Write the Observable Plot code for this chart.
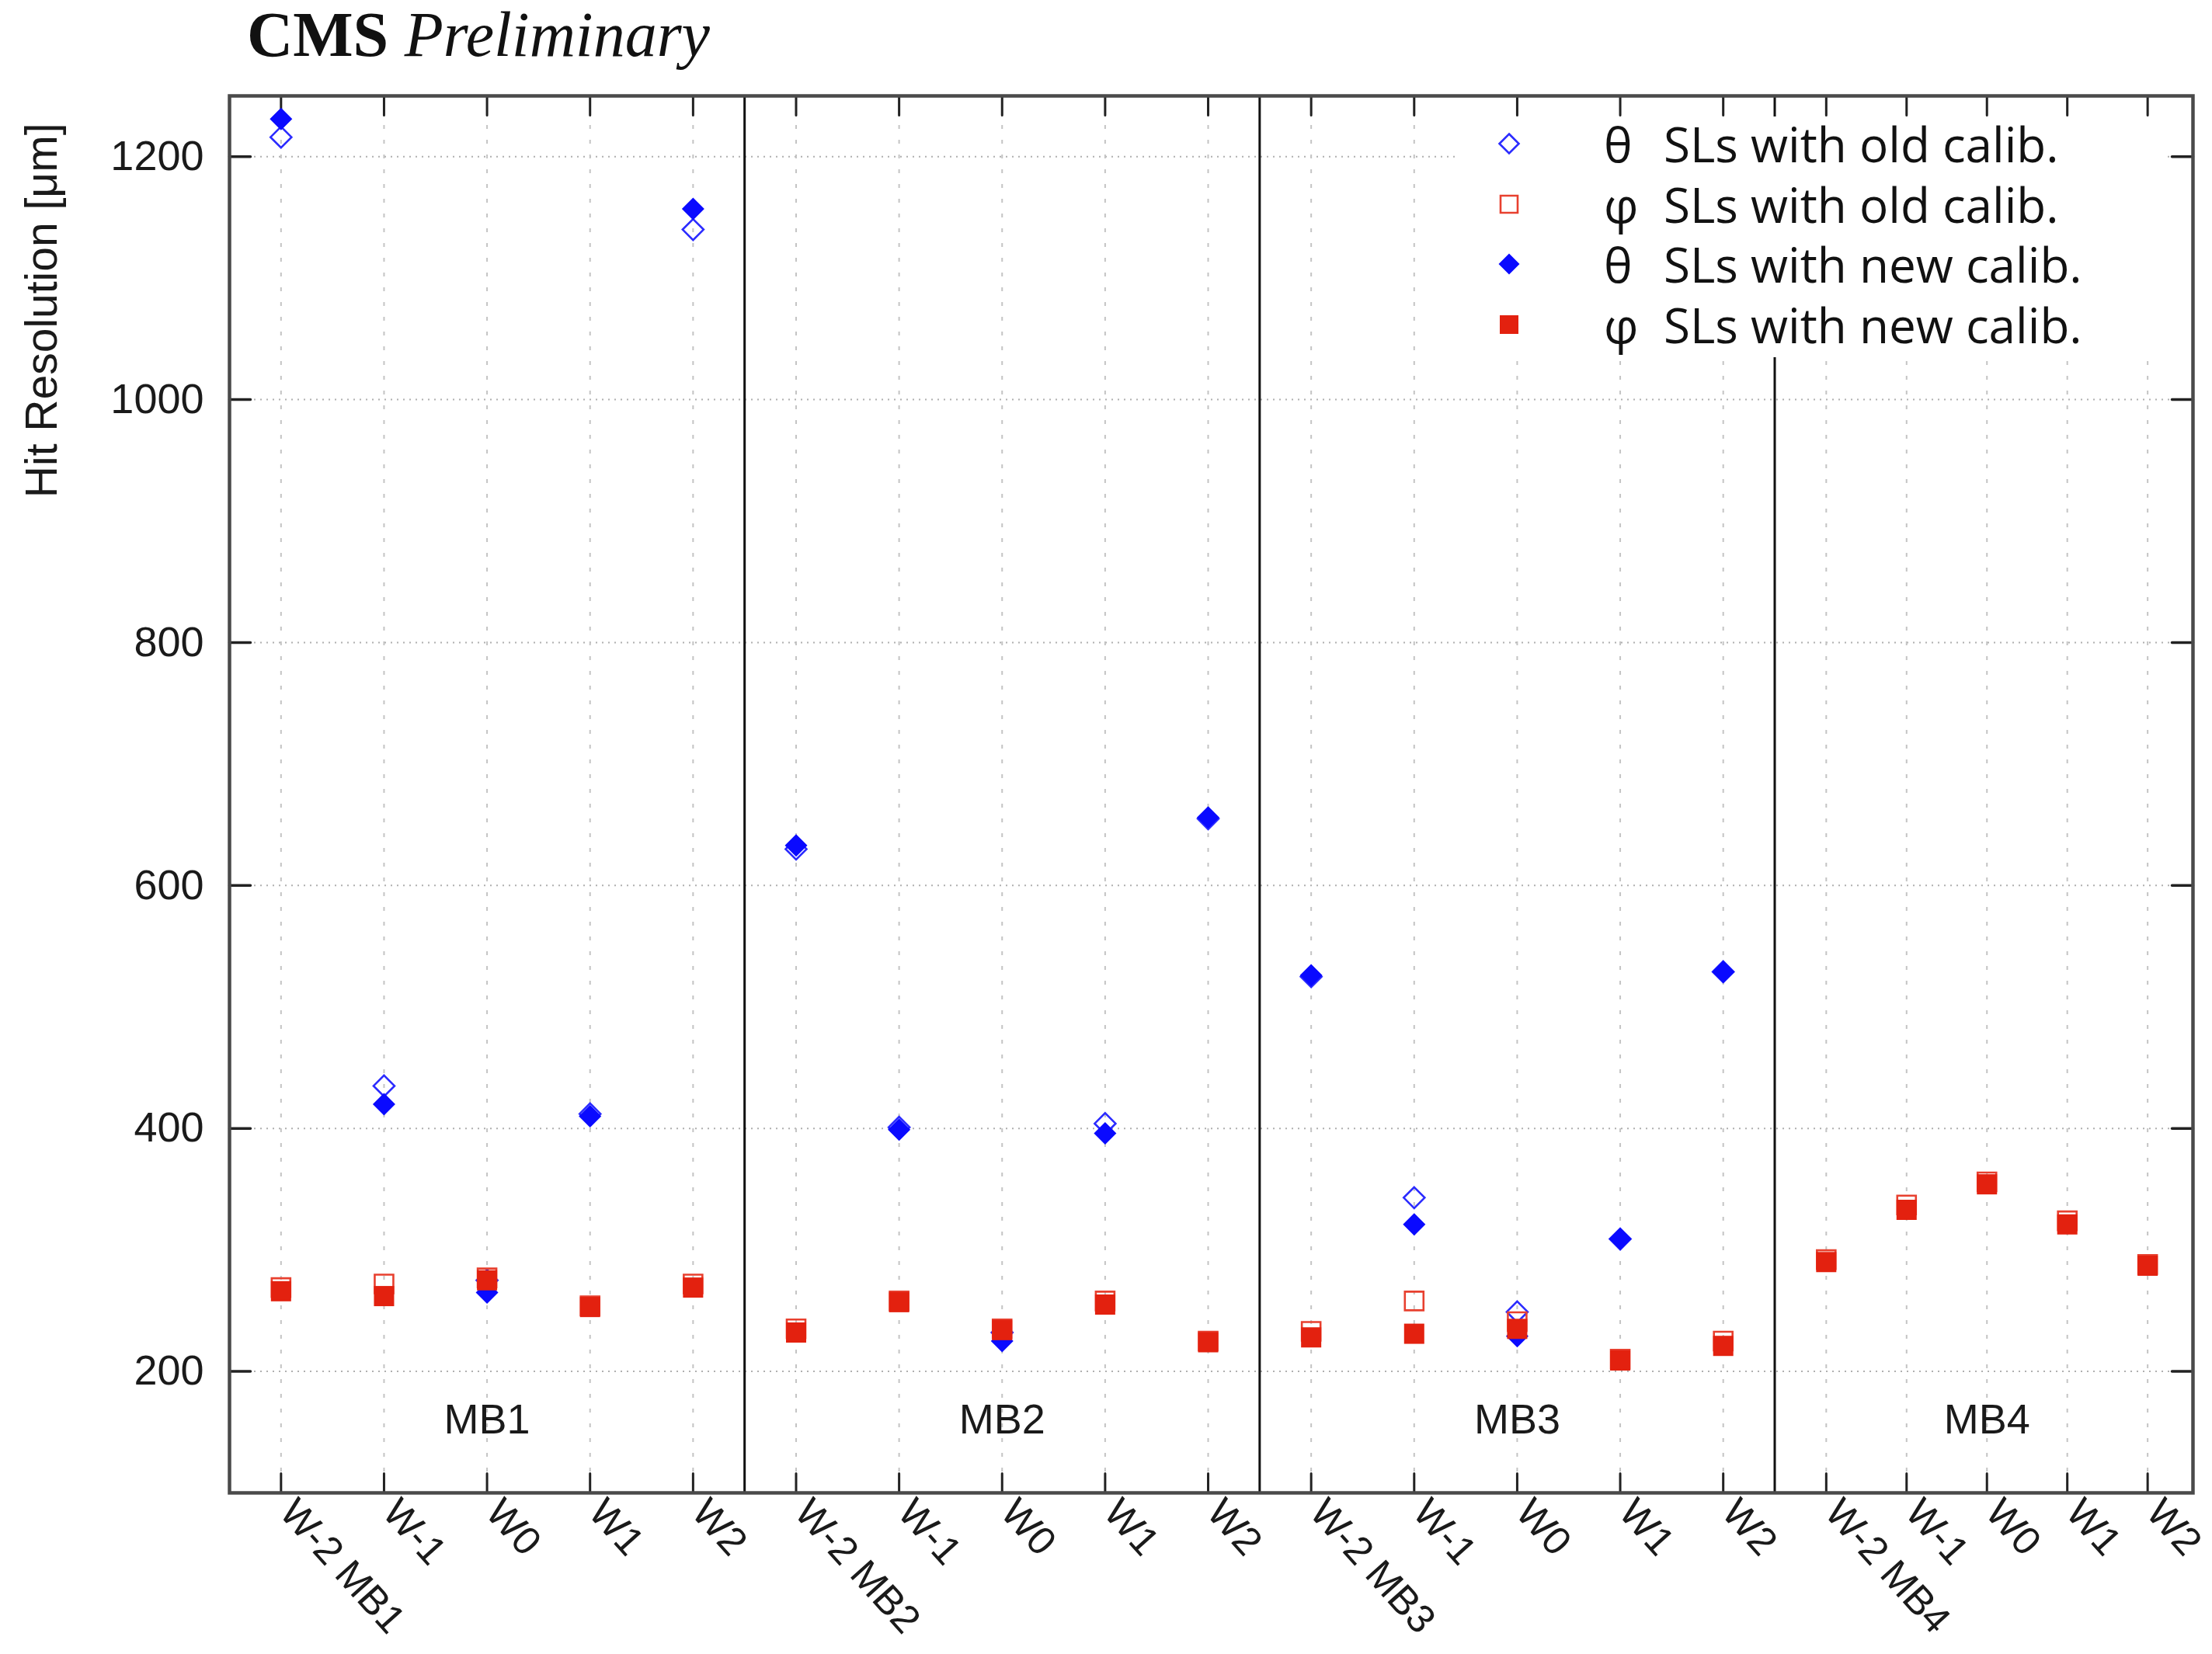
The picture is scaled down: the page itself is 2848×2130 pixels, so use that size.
<!DOCTYPE html>
<html><head><meta charset="utf-8">
<script src="https://cdn.jsdelivr.net/npm/d3@7"></script>
<script src="https://cdn.jsdelivr.net/npm/@observablehq/plot@0.6"></script>
<style>
body{margin:0;background:#fff;}
#title{position:relative;height:100px;width:2848px;}
#title span{position:absolute;left:318px;top:4px;font-family:"Liberation Serif","Times New Roman",serif;font-size:82px;line-height:82px;color:#111;white-space:nowrap;}
</style></head><body>
<div id="title"><span><b>CMS</b> <i>Preliminary</i></span></div>
<div id="chart"></div>
<script>
// ---- data ----
const stations = ["MB1", "MB2", "MB3", "MB4"];
const tickLabels = [
  "W-2 MB1", "W-1", "W0", "W1", "W2",
  "W-2 MB2", "W-1", "W0", "W1", "W2",
  "W-2 MB3", "W-1", "W0", "W1", "W2",
  "W-2 MB4", "W-1", "W0", "W1", "W2"
];
const xPositions = [1, 2, 3, 4, 5, 6, 7, 8, 9, 10, 11, 12, 13, 14, 15, 16, 16.78, 17.56, 18.34, 19.12];
const stationSeparators = [5.5, 10.5, 15.5];
const stationLabelX = [3, 8, 13, 17.56];
const yTicks = [200, 400, 600, 800, 1000, 1200];

const thetaOld = [1216, 435, 275, 412, 1140,  630, 401, 232, 404, 655,  525, 343, 249, 309, 529,  null, null, null, null, null];
const phiOld   = [269, 272, 277, 254, 272,    235, 258, 235, 258, 225,  233, 258, 241, 210, 225,  292, 337, 356, 324, 288];
const thetaNew = [1231, 420, 265, 410, 1157,  633, 399, 225, 396, 656,  526, 321, 229, 309, 529,  null, null, null, null, null];
const phiNew   = [266, 262, 275, 253, 269,    232, 257, 234, 255, 224,  228, 231, 235, 209, 221,  290, 333, 354, 321, 287];

const legendGreek = ["θ", "φ", "θ", "φ"];
const legendText = ["SLs with old calib.", "SLs with old calib.", "SLs with new calib.", "SLs with new calib."];

// ---- build table ----
function rows(values, series) {
  return values.map((v, i) => ({x: xPositions[i], y: v, series})).filter(d => d.y != null);
}
const dThetaOld = rows(thetaOld, 0);
const dPhiOld = rows(phiOld, 1);
const dThetaNew = rows(thetaNew, 2);
const dPhiNew = rows(phiNew, 3);

const labelMap = new Map(xPositions.map((x, i) => [x, tickLabels[i]]));

// ---- symbols ----
const squareSym = {draw(ctx, size) { const r = Math.sqrt(size / Math.PI); ctx.moveTo(-r, -r); ctx.lineTo(r, -r); ctx.lineTo(r, r); ctx.lineTo(-r, r); ctx.closePath(); }};
const diamondSym = {draw(ctx, size) { const r = Math.sqrt(size / Math.PI); ctx.moveTo(0, -r); ctx.lineTo(r, 0); ctx.lineTo(0, r); ctx.lineTo(-r, 0); ctx.closePath(); }};

const BLUE = "#0a0aff", BLUE_OPEN = "#2b2bff", RED = "#e3210f", RED_OPEN = "#e8402f";
const tickColor = "#222";
const tickLen = 25;

const chart = Plot.plot({
  width: 2848,
  height: 2030,
  marginTop: 23,
  marginBottom: 208,
  marginLeft: 295,
  marginRight: 25,
  style: {fontFamily: "Liberation Sans, Arial, sans-serif", fontSize: "52px", color: "#1a1a1a", background: "white"},
  x: {domain: [0.5, 19.56]},
  y: {domain: [100, 1250]},
  marks: [
    Plot.ruleY(yTicks, {y: d => d, stroke: "#b0b0b0", strokeDasharray: "2,6", strokeWidth: 2}),
    Plot.ruleX(xPositions, {x: d => d, stroke: "#c4c4c4", strokeDasharray: "5,14", strokeWidth: 2}),
    Plot.ruleX(stationSeparators, {x: d => d, stroke: "#111", strokeWidth: 3}),
    // inward ticks
    Plot.vector(xPositions, {x: d => d, frameAnchor: "bottom", anchor: "start", rotate: 0, length: tickLen, r: 0, stroke: tickColor, strokeWidth: 3}),
    Plot.vector(xPositions, {x: d => d, frameAnchor: "top", anchor: "start", rotate: 180, length: tickLen, r: 0, stroke: tickColor, strokeWidth: 3}),
    Plot.vector(yTicks, {y: d => d, frameAnchor: "left", anchor: "start", rotate: 90, length: 27, r: 0, stroke: tickColor, strokeWidth: 3.5}),
    Plot.vector(yTicks, {y: d => d, frameAnchor: "right", anchor: "start", rotate: -90, length: 27, r: 0, stroke: tickColor, strokeWidth: 3.5}),
    // points
    Plot.dot(dThetaOld, {x: "x", y: "y", symbol: diamondSym, r: 13.5, fill: "none", stroke: BLUE_OPEN, strokeWidth: 2.6}),
    Plot.dot(dPhiOld, {x: "x", y: "y", symbol: squareSym, r: 12, fill: "none", stroke: RED_OPEN, strokeWidth: 2.6}),
    Plot.dot(dThetaNew, {x: "x", y: "y", symbol: diamondSym, r: 14.5, fill: BLUE, stroke: "none"}),
    Plot.dot(dPhiNew, {x: "x", y: "y", symbol: squareSym, r: 13, fill: RED, stroke: "none"}),
    // station labels
    Plot.text(stations, {x: (d, i) => stationLabelX[i], text: d => d, frameAnchor: "bottom", dy: -77, fontSize: 54, fill: "#1a1a1a"}),
    // axes
    Plot.axisY(yTicks, {anchor: "left", tickSize: 0, tickPadding: 33, fontSize: 54, label: null, fill: "#1a1a1a", tickFormat: d3.format("d")}),
    Plot.axisX(xPositions, {anchor: "bottom", tickSize: 0, tickPadding: 16, dx: 8, tickRotate: 48, fontSize: 51, label: null, tickFormat: d => labelMap.get(d), fill: "#1a1a1a"}),
    Plot.text(["Hit Resolution [μm]"], {text: d => d, frameAnchor: "top-left", rotate: -90, textAnchor: "end", dx: -263, dy: 35, fontSize: 57, fill: "#1a1a1a"}),
    Plot.frame({stroke: "#4a4a4a", strokeWidth: 4.5})
  ]
});
document.getElementById("chart").appendChild(chart);

// ---- legend (inside plot, white box) ----
const svg = d3.select(chart);
const lg = svg.append("g").attr("class", "legend").attr("text-anchor", "start");
lg.append("rect").attr("x", 1875).attr("y", 50).attr("width", 915).attr("height", 310).attr("fill", "white");
const legendStyle = [
  {sym: diamondSym, r: 12.5, fill: "none", stroke: BLUE_OPEN},
  {sym: squareSym, r: 11, fill: "none", stroke: RED_OPEN},
  {sym: diamondSym, r: 13.5, fill: BLUE, stroke: "none"},
  {sym: squareSym, r: 12, fill: RED, stroke: "none"}
];
const rowY = [85, 163, 240, 318];
legendStyle.forEach((st, i) => {
  const p = d3.path();
  st.sym.draw(p, Math.PI * st.r * st.r);
  lg.append("path").attr("d", p.toString()).attr("transform", `translate(1943,${rowY[i]})`)
    .attr("fill", st.fill).attr("stroke", st.stroke).attr("stroke-width", 2.6);
  lg.append("text").attr("x", 2065).attr("y", rowY[i] + 24).attr("text-anchor", "start").text(legendGreek[i])
    .attr("font-family", "Open Sans, Noto Sans, sans-serif").attr("font-size", 62).attr("fill", "#111");
  lg.append("text").attr("x", 2142).attr("y", rowY[i] + 24).attr("text-anchor", "start").text(legendText[i])
    .attr("font-family", "Open Sans, Noto Sans, sans-serif").attr("font-size", 62).attr("fill", "#111");
});
</script>
</body></html>
